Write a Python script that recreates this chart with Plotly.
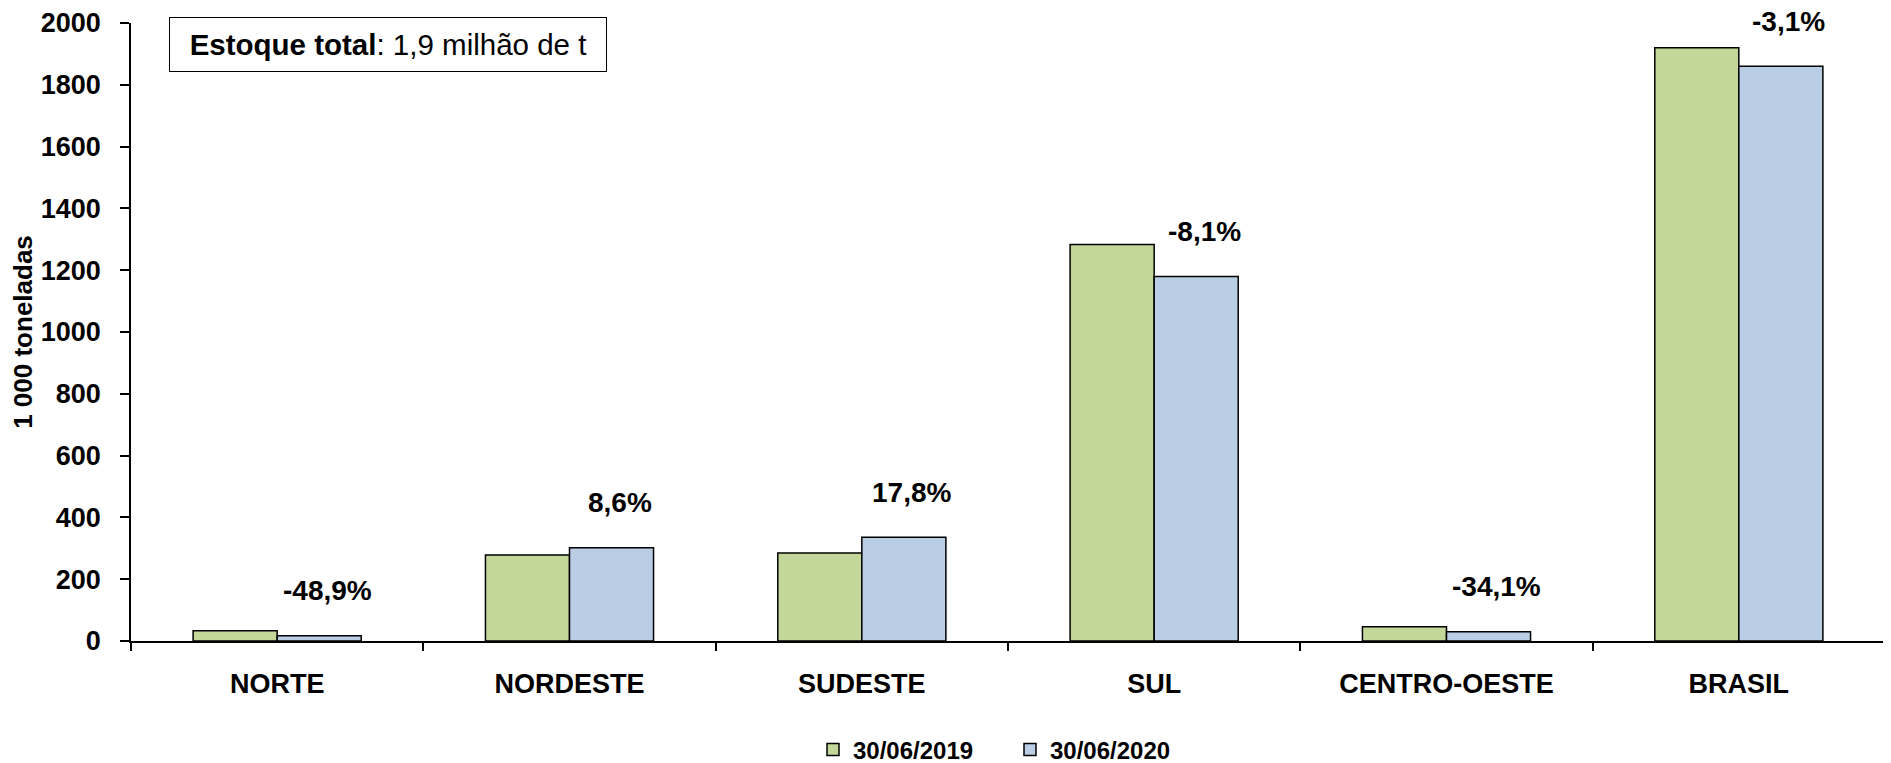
import plotly.graph_objects as go

categories = ["NORTE", "NORDESTE", "SUDESTE", "SUL", "CENTRO-OESTE", "BRASIL"]
stock_2019 = [33.5, 278, 285, 1283, 46, 1920]
stock_2020 = [17, 302, 336, 1180, 30, 1860]
pct_labels = ["-48,9%", "8,6%", "17,8%", "-8,1%", "-34,1%", "-3,1%"]
series_names = ["30/06/2019", "30/06/2020"]
y_ticks = list(range(0, 2001, 200))

FONT = "Liberation Sans, Arial, sans-serif"
GREEN = "#C4D79B"
BLUE = "#B9CDE5"

# page body has an 8px margin; the figure is sized so that it ends at the window edge
W, H = 1883, 755
ML, MR, MT, MB = 123, 6, 15, 122
plot_w = W - ML - MR
plot_h = H - MT - MB

fig = go.Figure()
fig.add_trace(go.Bar(x=categories, y=stock_2019, name=series_names[0],
                     marker=dict(color=GREEN, line=dict(color="black", width=1.5))))
fig.add_trace(go.Bar(x=categories, y=stock_2020, name=series_names[1],
                     marker=dict(color=BLUE, line=dict(color="black", width=1.5))))

for cat, val, lab in zip(categories, stock_2020, pct_labels):
    fig.add_annotation(x=cat, y=val, xref="x", yref="y", text=lab, showarrow=False,
                       xshift=50, yshift=45, yanchor="middle",
                       font=dict(family=FONT, size=28, color="black", weight="bold"))

fig.add_annotation(xref="paper", yref="paper", x=38 / plot_w, y=1 + 6.3 / plot_h,
                   xanchor="left", yanchor="top",
                   text="<b>Estoque total</b>: 1,9 milhão de t", showarrow=False,
                   width=434, height=51, align="center", valign="middle",
                   bordercolor="black", borderwidth=1, borderpad=1, bgcolor="white",
                   font=dict(family=FONT, size=29.5, color="black"))

fig.update_layout(
    width=W, height=H,
    margin=dict(l=ML, r=MR, t=MT, b=MB, autoexpand=False),
    paper_bgcolor="white", plot_bgcolor="white",
    barmode="group", bargap=0.425, bargroupgap=0,
    font=dict(family=FONT, color="black"),
    legend=dict(orientation="h", x=(805 - ML) / plot_w, xanchor="left",
                y=-109 / plot_h, yanchor="middle", entrywidth=152,
                font=dict(family=FONT, size=24, color="black", weight="bold"),
                itemwidth=30, bgcolor="rgba(0,0,0,0)"),
    xaxis=dict(type="category", showline=True, linecolor="black", linewidth=1.5,
               ticks="outside", tickson="boundaries", ticklen=8, tickwidth=1.5, tickcolor="black",
               ticklabelstandoff=18, showgrid=False, automargin=False,
               tickfont=dict(family=FONT, size=27, color="black", weight="bold")),
    yaxis=dict(range=[0, 2000], tickvals=y_ticks, showline=True, linecolor="black", linewidth=1.5,
               ticks="outside", ticklen=9, tickwidth=1.5, tickcolor="black",
               ticklabelstandoff=14, showgrid=False, zeroline=False, automargin=False,
               tickfont=dict(family=FONT, size=27, color="black", weight="bold"),
               title=dict(text="1 000 toneladas", standoff=4,
                          font=dict(family=FONT, size=26, color="black", weight="bold"))),
)

fig.write_html("out.html")
